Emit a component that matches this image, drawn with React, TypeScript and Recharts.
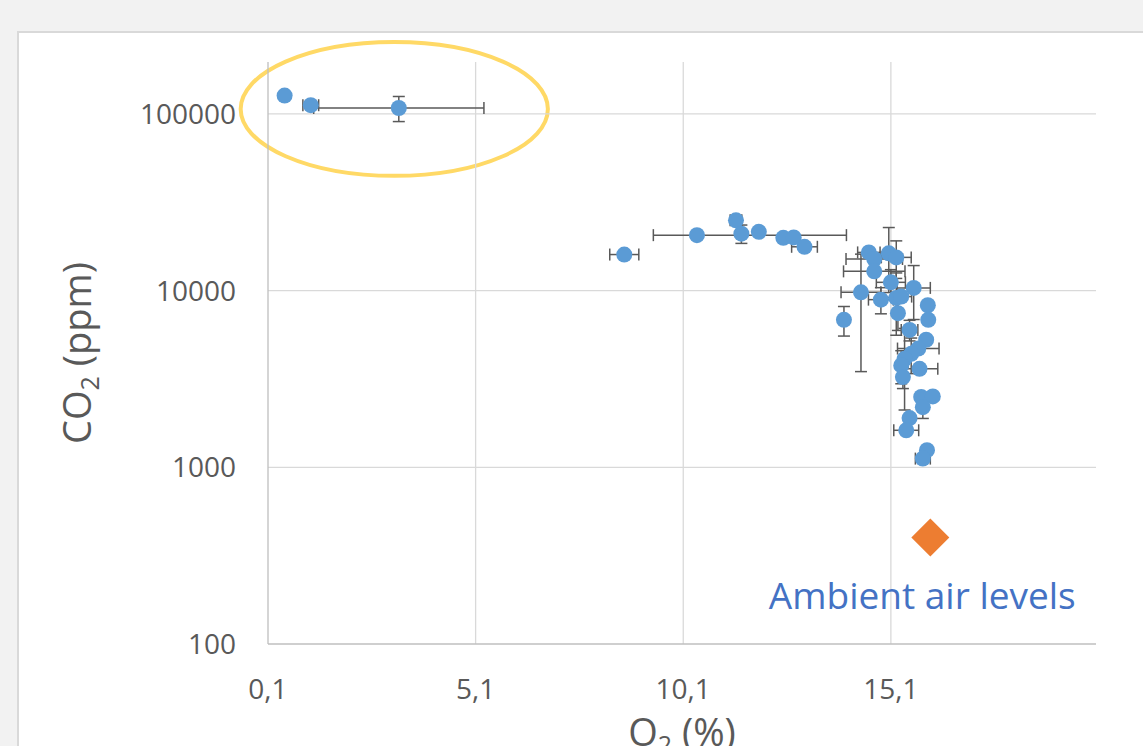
import {
  ErrorBar,
  ReferenceArea,
  ReferenceLine,
  Scatter,
  ScatterChart,
  XAxis,
  YAxis,
} from "recharts";

const FONT = "'Open Sans', sans-serif";
const TEXT = "#595959";
const BLUE = "#5b9bd5";
const ORANGE = "#ed7d31";
const GRID = "#d9d9d9";

// O2 (%) of every measured sample
const O2 = [
  0.5, 1.13, 3.25, 8.68, 10.43, 11.37, 11.5, 11.92, 12.51, 12.76, 13.02, 14.57,
  14.7, 15.05, 15.23, 14.7, 15.1, 14.38, 15.65, 14.86, 15.23, 15.35, 13.97,
  15.27, 15.99, 16.0, 15.55, 15.95, 15.76, 15.59, 15.43, 15.35, 15.79, 15.39,
  15.83, 16.11, 15.87, 15.55, 15.47, 15.97, 15.87,
];

// CO2 (ppm) of every measured sample
const CO2 = [
  127000, 112000, 108000, 16000, 20600, 25000, 21000, 21500, 19900, 20000,
  17700, 16450, 15100, 16250, 15420, 12850, 11140, 9780, 10360, 8890, 9090,
  9250, 6830, 7450, 8260, 6830, 5990, 5270, 4700, 4390, 4110, 3770, 3610, 3240,
  2500, 2520, 2190, 1900, 1620, 1250, 1120,
];

// error on O2, a pair means [below, above]
const O2_ERR: (number | [number, number])[] = [
  0, 0.19, 2.05, 0.35, [1.05, 3.6], 0.14, 0, 0, 0, 0, 0.31, 0.27, 0.68, 0,
  0.36, 0.74, 0.35, 0.48, 0.4, 0.3, 0, 0.25, 0, 0, 0, 0, 0.2, 0, 0.5, 0, 0, 0,
  0.44, 0, 0, 0, 0, 0, 0.3, 0, 0.18,
];

// error on CO2
const CO2_ERR = [
  0, 0, 17500, 0, 0, 0, 2500, 0, 0, 0, 0, 0, 0, 6500, 3700, 0, 2000, 6300, 3500,
  1500, 3500, 0, 1300, 1500, 0, 0, 800, 0, 0, 1000, 2000, 800, 0, 450, 0, 0,
  300, 0, 0, 0, 0,
];

const AMBIENT_O2 = [16.05];
const AMBIENT_CO2 = [400];

const X_TICKS = [0.1, 5.1, 10.1, 15.1];
const Y_TICKS = [100, 1000, 10000, 100000];

const samples = O2.map((o2, i) => ({
  o2,
  co2: CO2[i],
  o2Err: O2_ERR[i],
  co2Err: CO2_ERR[i],
}));

const ambient = AMBIENT_O2.map((o2, i) => ({ o2, co2: AMBIENT_CO2[i] }));

function Dot(props: any) {
  const { cx, cy } = props;
  if (cx == null || cy == null) return null;
  return <circle cx={cx} cy={cy} r={8} fill={BLUE} />;
}

function AmbientMark(props: any) {
  const { cx, cy } = props;
  if (cx == null || cy == null) return null;
  const s = 19;
  return (
    <g>
      <polygon
        points={`${cx},${cy - s} ${cx + s},${cy} ${cx},${cy + s} ${cx - s},${cy}`}
        fill={ORANGE}
      />
      <text
        x={cx - 8}
        y={cy + 71}
        textAnchor="middle"
        fill="#4472c4"
        fontSize={37}
        fontFamily={FONT}
      >
        Ambient air levels
      </text>
    </g>
  );
}

function Ellipse(props: any) {
  const { x, y, width, height } = props;
  return (
    <ellipse
      cx={x + width / 2}
      cy={y + height / 2}
      rx={width / 2}
      ry={height / 2}
      fill="none"
      stroke="#ffd966"
      strokeWidth={4}
    />
  );
}

function YTitle(props: any) {
  const vb = props.viewBox ?? { x: 0, y: 62, width: 268, height: 582 };
  const cx = vb.x + 91;
  const cy = vb.y + vb.height / 2;
  return (
    <text
      x={cx}
      y={cy}
      transform={`rotate(-90 ${cx} ${cy})`}
      textAnchor="middle"
      fill={TEXT}
      fontSize={38}
      fontFamily={FONT}
    >
      CO
      <tspan fontSize={25} dy={8}>
        2
      </tspan>
      <tspan dy={-8}> (ppm)</tspan>
    </text>
  );
}

function XTitle(props: any) {
  const vb = props.viewBox ?? { x: 268, y: 644, width: 828, height: 60 };
  const cx = vb.x + vb.width / 2;
  return (
    <text
      x={cx}
      y={vb.y + 102}
      textAnchor="middle"
      fill={TEXT}
      fontSize={38}
      fontFamily={FONT}
    >
      O
      <tspan fontSize={25} dy={8}>
        2
      </tspan>
      <tspan dy={-8}> (%)</tspan>
    </text>
  );
}

export default function App() {
  return (
    <div
      style={{
        position: "absolute",
        left: 0,
        top: 0,
        width: 1143,
        height: 746,
        background: "#f2f2f2",
        overflow: "hidden",
      }}
    >
      <div
        style={{
          position: "absolute",
          left: 17,
          top: 31,
          width: 1200,
          height: 800,
          background: "#ffffff",
          border: "2px solid #d9d9d9",
        }}
      />
      <div style={{ position: "absolute", left: 0, top: 0 }}>
        <ScatterChart
          width={1143}
          height={770}
          margin={{ top: 62, right: 47, bottom: 66, left: 0 }}
        >
          <XAxis
            type="number"
            dataKey="o2"
            domain={[0.1, 20.04]}
            ticks={X_TICKS}
            interval={0}
            allowDataOverflow
            tickFormatter={(v: number) => v.toFixed(1).replace(".", ",")}
            tick={{ fill: TEXT, fontSize: 28, fontFamily: FONT }}
            tickLine={false}
            tickSize={0}
            tickMargin={35}
            axisLine={{ stroke: "#bfbfbf", strokeWidth: 1.3 }}
            height={60}
            label={{ content: (p: any) => <XTitle {...p} /> }}
          />
          <YAxis
            type="number"
            dataKey="co2"
            scale="log"
            domain={[100, 196700]}
            ticks={Y_TICKS}
            interval={0}
            allowDataOverflow
            tick={{ fill: TEXT, fontSize: 28, fontFamily: FONT }}
            tickLine={false}
            tickSize={0}
            tickMargin={32}
            axisLine={{ stroke: "#bfbfbf", strokeWidth: 1.3 }}
            width={268}
            label={{ content: (p: any) => <YTitle {...p} /> }}
          />
          {X_TICKS.slice(1).map((t) => (
            <ReferenceLine key={`gx${t}`} x={t} stroke={GRID} strokeWidth={1.3} />
          ))}
          {Y_TICKS.slice(1).map((t) => (
            <ReferenceLine key={`gy${t}`} y={t} stroke={GRID} strokeWidth={1.3} />
          ))}
          <ReferenceArea
            x1={-0.558}
            x2={6.84}
            y1={44630}
            y2={255200}
            ifOverflow="visible"
            shape={(p: any) => <Ellipse {...p} />}
          />
          <Scatter data={samples} shape={Dot} isAnimationActive={false}>
            <ErrorBar
              dataKey="o2Err"
              direction="x"
              width={6}
              stroke="#595959"
              strokeWidth={1.5}
              isAnimationActive={false}
            />
            <ErrorBar
              dataKey="co2Err"
              direction="y"
              width={6}
              stroke="#595959"
              strokeWidth={1.5}
              isAnimationActive={false}
            />
          </Scatter>
          <Scatter data={ambient} shape={AmbientMark} isAnimationActive={false} />
        </ScatterChart>
      </div>
    </div>
  );
}
